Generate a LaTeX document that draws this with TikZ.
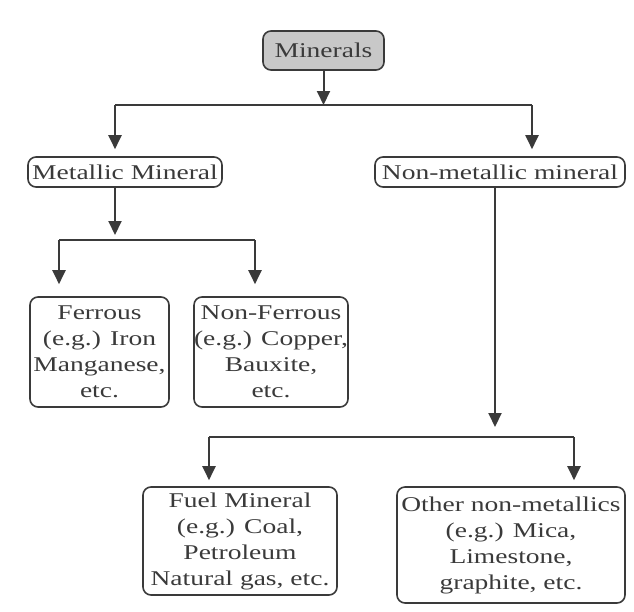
\documentclass[tikz,border=0pt]{standalone}
\usepackage{fontspec}
\setmainfont[FakeStretch=1.31]{Liberation Serif}
\usetikzlibrary{arrows.meta}
\definecolor{ink}{HTML}{3A3A3A}
\definecolor{boxgray}{HTML}{C8C8C8}
\tikzset{
  box/.style={draw=ink, line width=1.6pt, rounded corners=8pt, inner sep=0pt,
    align=center, text=ink, font=\fontsize{21}{26}\selectfont},
  conn/.style={draw=ink, line width=2pt},
  arr/.style={conn, -{Triangle[width=13pt,length=14pt]}}
}
\begin{document}
\begin{tikzpicture}[x=1pt, y=-1pt]
\useasboundingbox (0,0) rectangle (634,611);
% nodes
\node[box, fill=boxgray, minimum width=121pt, minimum height=39pt] (min) at (323.5,50.5) {Minerals};
\node[box, minimum width=194pt, minimum height=30pt] (met) at (125,172) {Metallic Mineral};
\node[box, minimum width=250pt, minimum height=30pt] (non) at (500,172) {Non-metallic mineral};
\node[box, minimum width=139pt, minimum height=110pt] (fer) at (99.5,352) {Ferrous\\(e.g.) Iron\\Manganese,\\etc.};
\node[box, minimum width=152pt, minimum height=110pt] (nfe) at (271,352) {Non-Ferrous\\(e.g.) Copper,\\Bauxite,\\etc.};
\node[box, minimum width=194pt, minimum height=108pt] (fue) at (240,541) {Fuel Mineral\\(e.g.) Coal,\\Petroleum\\Natural gas, etc.};
\node[box, minimum width=228pt, minimum height=116pt] (oth) at (511,545) {Other non-metallics\\(e.g.) Mica,\\Limestone,\\graphite, etc.};
% junction coordinates
\coordinate (j1) at (323.5,105);
\coordinate (l1) at (115,105);
\coordinate (r1) at (532,105);
\coordinate (j2) at (115,240);
\coordinate (l2) at (59,240);
\coordinate (r2) at (255,240);
\coordinate (j3) at (495,437);
\coordinate (l3) at (209,437);
\coordinate (r3) at (574,437);
% connectors
\draw[arr] (min.south) -- (j1);
\draw[conn] (l1) -- (r1);
\draw[arr, shorten >=7pt] (l1) -- (l1 |- met.north);
\draw[arr, shorten >=7pt] (r1) -- (r1 |- non.north);
\draw[arr, shorten >=5pt] (met.south -| j2) -- (j2);
\draw[conn] (l2) -- (r2);
\draw[arr, shorten >=12pt] (l2) -- (l2 |- fer.north);
\draw[arr, shorten >=12pt] (r2) -- (r2 |- nfe.north);
\draw[arr, shorten >=10pt] (non.south -| j3) -- (j3);
\draw[conn] (l3) -- (r3);
\draw[arr, shorten >=6pt] (l3) -- (l3 |- fue.north);
\draw[arr, shorten >=6pt] (r3) -- (r3 |- oth.north);
\end{tikzpicture}
\end{document}
